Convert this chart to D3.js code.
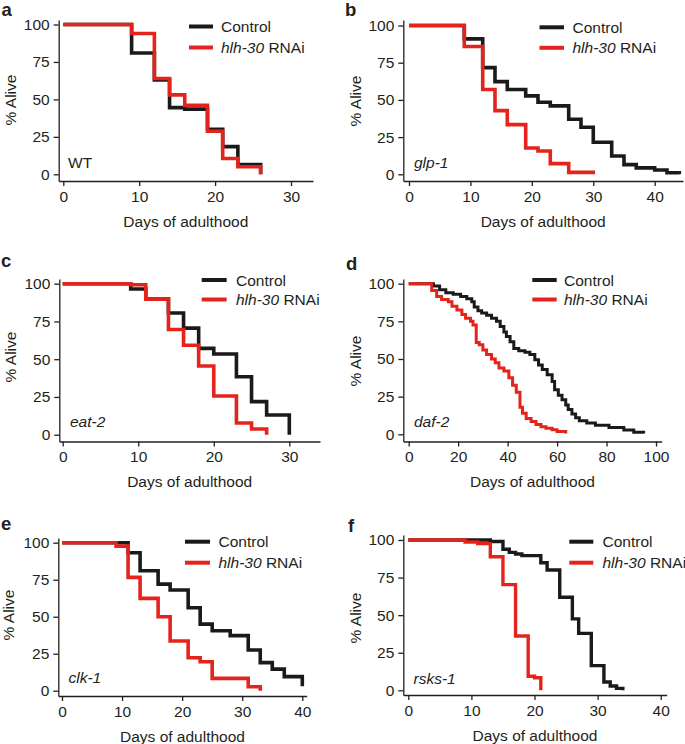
<!DOCTYPE html>
<html><head><meta charset="utf-8">
<script src="https://cdn.jsdelivr.net/npm/d3@7"></script>
<style>
body{margin:0;background:#fff;}
svg text{font-family:"Liberation Sans",Arial,Helvetica,sans-serif;fill:#231f20;}
</style></head><body>
<svg id="chart" width="685" height="744"></svg>
<script>
// ---------- data ----------
const seriesNames = ["Control", "hlh-30 RNAi"];
const yTickValues = [0, 25, 50, 75, 100];
const xTicksA = [0, 10, 20, 30];
const xTicksB = [0, 10, 20, 30, 40];
const xTicksC = [0, 10, 20, 30];
const xTicksD = [0, 20, 40, 60, 80, 100];
const xTicksE = [0, 10, 20, 30, 40];
const xTicksF = [0, 10, 20, 30, 40];
const strainLabels = ["WT", "glp-1", "eat-2", "daf-2", "clk-1", "rsks-1"];
const panelLetters = ["a", "b", "c", "d", "e", "f"];

// a: WT
const daysA_ctrl = [0, 9, 12, 14, 16, 19, 21, 23, 26];
const survA_ctrl = [100, 81, 63, 44.5, 43.5, 30, 18.5, 6.5, 0];
const daysA_rnai = [0, 9, 12, 14, 16, 19, 21, 23, 26];
const survA_rnai = [100, 94, 64, 53, 46, 28.7, 10.5, 5, 0];
// b: glp-1
const daysB_ctrl = [0, 9, 12, 14, 16, 19, 21, 23, 26, 28, 30, 33, 35, 37, 40, 42, 44];
const survB_ctrl = [100, 91, 71.7, 62.3, 57, 52.7, 48.4, 46, 37, 31.6, 21.5, 12.3, 6.5, 4.3, 2.9, 1, 0];
const daysB_rnai = [0, 9, 12, 14, 16, 19, 21, 23, 26, 30];
const survB_rnai = [100, 85.9, 57, 42.8, 33.4, 17.7, 15.7, 7.2, 1.3, 0];
// c: eat-2
const daysC_ctrl = [0, 9, 11, 14, 16, 18, 20, 23, 25, 27, 30];
const survC_ctrl = [100, 96.5, 89.8, 80.6, 70.6, 57.2, 53.4, 38.4, 21.9, 13, 0];
const daysC_rnai = [0, 9, 11, 14, 16, 18, 20, 23, 25, 27];
const survC_rnai = [100, 99.3, 89.8, 69.7, 59.2, 45.5, 25.6, 7.7, 3.75, 0];
// d: daf-2
const daysD_ctrl = [0, 10, 12.5, 15, 18, 21, 23.5, 25.5, 26.5, 28, 29.5, 31.5, 33.5, 35.5, 37, 38.5, 39.5, 41, 42.5, 44.5, 47, 49, 51, 52.5, 54, 56, 58, 59, 60.5, 62, 63.5, 64.5, 66, 67.5, 69, 72, 75.5, 81, 87, 91, 95];
const survD_ctrl = [100, 98.5, 96, 94, 93, 91.5, 90, 88, 84.5, 82, 80.5, 79, 77, 75, 71.5, 68, 65, 61.5, 57, 55.5, 54.5, 53, 49.5, 46, 43, 39.5, 35, 29.5, 26, 23, 19.5, 16.5, 13.5, 11, 9, 7.5, 6, 4.5, 2.8, 1.3, 0.5];
const daysD_rnai = [0, 9.3, 11.3, 13.3, 16, 17.5, 19.5, 21.5, 23, 25, 26, 27.3, 28.5, 30, 31.5, 33.5, 35, 36.5, 38.5, 40.5, 42, 43.5, 45, 46, 47.5, 49.5, 51.5, 53.5, 55.5, 58, 60, 63.5];
const survD_rnai = [100, 95.5, 91.5, 89.5, 88, 85, 82.5, 79.5, 77, 75, 72.5, 61, 59.5, 56, 53, 50, 47.5, 44, 42, 37.5, 32.5, 28, 18, 14, 10.5, 8.5, 6.5, 5, 4, 3, 1.8, 0.5];
// e: clk-1
const daysE_ctrl = [0, 11, 13, 16, 18, 21, 23, 25, 28, 31, 33, 35, 37, 40];
const survE_ctrl = [100, 93.2, 81, 72, 68, 56, 45, 40.5, 37.2, 27.5, 19, 14.6, 9.5, 3];
const daysE_rnai = [0, 9, 11, 13, 16, 18, 21, 23, 25, 31, 33];
const survE_rnai = [100, 97.7, 76.6, 62.4, 50, 33.6, 22.3, 19.6, 8.3, 2.7, 0];
// f: rsks-1
const daysF_ctrl = [0, 13, 15, 16, 17, 18, 21, 22, 24, 26, 27, 29, 31, 32, 33, 34];
const survF_ctrl = [100, 99, 93.8, 91.8, 90.7, 89.6, 84.9, 80, 61.9, 47.5, 37.9, 16.4, 5.5, 2.9, 1.3, 0];
const daysF_rnai = [0, 9, 11, 13, 15, 17, 19, 20, 21];
const survF_rnai = [100, 98.7, 97.6, 88.9, 70.3, 36.1, 9.3, 8.4, 0];

// ---------- layout ----------
const panels = [
  {ctrl:[daysA_ctrl,survA_ctrl], rnai:[daysA_rnai,survA_rnai], ticks:xTicksA,
   x0:63.3, xLastPx:291, axL:58.7, axR:313, y100:24.5, y0:174.3, axT:20, axB:181,
   lg:{x1:189, x2:213, y:26.5, tx:221, dy:21}, strain:{x:68, y:168, it:false},
   letter:{x:1.5, y:16}, ylab:{x:15.5, y:100}, lw:3.6},
  {ctrl:[daysB_ctrl,survB_ctrl], rnai:[daysB_rnai,survB_rnai], ticks:xTicksB,
   x0:409, xLastPx:654.7, axL:403.3, axR:683, y100:25.5, y0:174.3, axT:20, axB:181,
   lg:{x1:539.5, x2:564, y:27.3, tx:572.5, dy:20.5}, strain:{x:414, y:167.5, it:true},
   letter:{x:345, y:15.5}, ylab:{x:360.5, y:101}, lw:3.6},
  {ctrl:[daysC_ctrl,survC_ctrl], rnai:[daysC_rnai,survC_rnai], ticks:xTicksC,
   x0:62.7, xLastPx:289.3, axL:59.3, axR:320, y100:283.7, y0:434.7, axT:279, axB:441.5,
   lg:{x1:201.7, x2:226.7, y:280, tx:236, dy:19.5}, strain:{x:70, y:427, it:true},
   letter:{x:1, y:267}, ylab:{x:15.5, y:357}, lw:3.6},
  {ctrl:[daysD_ctrl,survD_ctrl], rnai:[daysD_rnai,survD_rnai], ticks:xTicksD,
   x0:408.7, xLastPx:656, axL:403.3, axR:661.7, y100:283.7, y0:434.3, axT:279, axB:441.5,
   lg:{x1:532.3, x2:556.7, y:280, tx:564, dy:19.5}, strain:{x:414, y:427, it:true},
   letter:{x:346, y:270}, ylab:{x:361, y:361}, lw:3},
  {ctrl:[daysE_ctrl,survE_ctrl], rnai:[daysE_rnai,survE_rnai], ticks:xTicksE,
   x0:62, xLastPx:302.3, axL:58.3, axR:306.7, y100:542.7, y0:690.7, axT:538, axB:696,
   lg:{x1:185, x2:210, y:541.7, tx:218.5, dy:21}, strain:{x:68.5, y:683, it:true},
   letter:{x:1, y:530}, ylab:{x:14, y:615}, lw:3.6},
  {ctrl:[daysF_ctrl,survF_ctrl], rnai:[daysF_rnai,survF_rnai], ticks:xTicksF,
   x0:408.3, xLastPx:660.7, axL:403.3, axR:666.7, y100:540, y0:690.3, axT:535, axB:695,
   lg:{x1:569.3, x2:593.3, y:541.7, tx:602.5, dy:21}, strain:{x:413.5, y:683.5, it:true},
   letter:{x:348, y:532}, ylab:{x:361, y:618}, lw:3.4}
];
const colors = ["#1a1a1a", "#e5231d"];
const axisColor = "#231f20";
const fs = 15.5;

const svg = d3.select("#chart");

panels.forEach((p, i) => {
  const xLast = p.ticks[p.ticks.length - 1];
  const x = d3.scaleLinear().domain([0, xLast]).range([p.x0, p.xLastPx]);
  const y = d3.scaleLinear().domain([0, 100]).range([p.y0, p.y100]);
  const xAx = d3.scaleLinear().domain([x.invert(p.axL), x.invert(p.axR)]).range([p.axL, p.axR]);
  const yAx = d3.scaleLinear().domain([y.invert(p.axB), y.invert(p.axT)]).range([p.axB, p.axT]);
  const g = svg.append("g");

  const gx = g.append("g").attr("transform", `translate(0,${p.axB})`)
    .call(d3.axisBottom(xAx).tickValues(p.ticks).tickSize(5).tickSizeOuter(0).tickPadding(4.5));
  const gy = g.append("g").attr("transform", `translate(${p.axL},0)`)
    .call(d3.axisLeft(yAx).tickValues(yTickValues).tickSize(5).tickSizeOuter(0).tickPadding(4));
  [gx, gy].forEach(a => {
    a.attr("font-size", fs).style("color", axisColor);
    a.selectAll("path,line").attr("stroke-width", 1.3);
  });

  // axis titles
  g.append("text").attr("x", (p.axL + p.axR) / 2).attr("y", p.axB + 45.5)
    .attr("text-anchor", "middle").attr("font-size", fs).text("Days of adulthood");
  g.append("text").attr("transform", `translate(${p.ylab.x},${p.ylab.y}) rotate(-90)`)
    .attr("text-anchor", "middle").attr("font-size", fs).text("% Alive");

  // curves
  const line = d3.line().x(d => x(d[0])).y(d => y(d[1])).curve(d3.curveStepAfter);
  [p.ctrl, p.rnai].forEach((s, k) => {
    g.append("path").datum(d3.zip(s[0], s[1]))
      .attr("d", line).attr("fill", "none").attr("stroke", colors[k])
      .attr("stroke-width", p.lw).attr("stroke-linejoin", "miter");
  });

  // legend
  seriesNames.forEach((name, k) => {
    const ly = p.lg.y + k * p.lg.dy;
    g.append("line").attr("x1", p.lg.x1).attr("x2", p.lg.x2).attr("y1", ly).attr("y2", ly)
      .attr("stroke", colors[k]).attr("stroke-width", 4);
    const t = g.append("text").attr("x", p.lg.tx).attr("y", ly + 5.5).attr("font-size", fs);
    if (k === 0) t.text(name);
    else {
      const parts = name.split(" ");
      t.append("tspan").attr("font-style", "italic").text(parts[0]);
      t.append("tspan").text(" " + parts[1]);
    }
  });

  // strain label
  g.append("text").attr("x", p.strain.x).attr("y", p.strain.y).attr("font-size", fs)
    .attr("font-style", p.strain.it ? "italic" : "normal").text(strainLabels[i]);

  // panel letter
  g.append("text").attr("x", p.letter.x).attr("y", p.letter.y).attr("font-size", 18.5)
    .attr("font-weight", "bold").text(panelLetters[i]);
});
</script>
</body></html>
